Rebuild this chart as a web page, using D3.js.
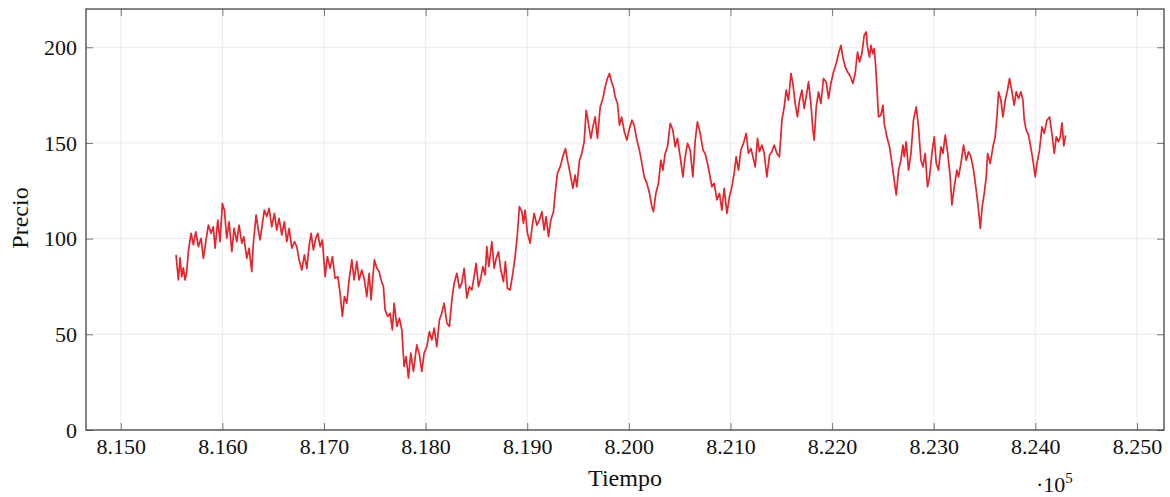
<!DOCTYPE html>
<html>
<head>
<meta charset="utf-8">
<script src="https://cdn.jsdelivr.net/npm/d3@7"></script>
<style>
  body { margin: 0; background: #fff; }
  text { font-family: "Liberation Serif", "DejaVu Serif", serif; fill: #111; }
</style>
</head>
<body>
<div id="canvas"></div>
<script>
// tiempo (x) y precio (y)
const tiempo = [
  815544, 815567, 815584, 815600, 815616, 815633, 815650, 815665, 815692, 815715,
  815738, 815764, 815790, 815813, 815837, 815862, 815889, 815911, 815928, 815955,
  815977, 816000, 816020, 816043, 816066, 816093, 816115, 816142, 816164, 816191,
  816211, 816240, 816263, 816289, 816305, 816332, 816354, 816371, 816394, 816413,
  816437, 816460, 816486, 816512, 816535, 816558, 816585, 816610, 816634, 816657,
  816683, 816709, 816732, 816755, 816782, 816807, 816831, 816853, 816873, 816896,
  816919, 816939, 816962, 816984, 817011, 817033, 817060, 817083, 817109, 817136,
  817158, 817181, 817201, 817224, 817247, 817274, 817296, 817323, 817345, 817372,
  817398, 817421, 817444, 817464, 817476, 817496, 817520, 817542, 817562, 817585,
  817601, 817628, 817651, 817673, 817690, 817717, 817742, 817766, 817788, 817808,
  817831, 817854, 817880, 817913, 817939, 817963, 817985, 818012, 818037, 818061,
  818084, 818110, 818136, 818159, 818182, 818209, 818234, 818258, 818281, 818307,
  818333, 818356, 818379, 818406, 818431, 818455, 818477, 818497, 818520, 818543,
  818563, 818586, 818602, 818622, 818652, 818674, 818694, 818717, 818740, 818766,
  818785, 818805, 818832, 818858, 818881, 818904, 818923, 818947, 818963, 818979,
  819002, 819029, 819048, 819068, 819095, 819120, 819144, 819166, 819186, 819209,
  819232, 819258, 819275, 819297, 819324, 819350, 819376, 819396, 819422, 819449,
  819471, 819488, 819514, 819537, 819560, 819580, 819602, 819626, 819646, 819668,
  819691, 819718, 819744, 819767, 819789, 819809, 819829, 819848, 819865, 819888,
  819908, 819929, 819955, 819980, 820006, 820030, 820052, 820079, 820104, 820128,
  820151, 820177, 820203, 820226, 820242, 820266, 820291, 820315, 820335, 820357,
  820380, 820407, 820433, 820456, 820478, 820505, 820532, 820554, 820577, 820603,
  820630, 820653, 820675, 820702, 820731, 820751, 820774, 820793, 820817, 820840,
  820866, 820892, 820915, 820938, 820965, 820990, 821014, 821036, 821056, 821079,
  821102, 821128, 821155, 821177, 821201, 821221, 821243, 821266, 821285, 821309,
  821332, 821358, 821384, 821407, 821430, 821457, 821482, 821506, 821529, 821548,
  821571, 821595, 821614, 821637, 821659, 821679, 821703, 821725, 821745, 821768,
  821791, 821811, 821824, 821844, 821866, 821890, 821915, 821942, 821965, 821988,
  822014, 822040, 822063, 822087, 822106, 822129, 822152, 822178, 822205, 822227,
  822250, 822270, 822293, 822316, 822336, 822348, 822368, 822382, 822402, 822414,
  822427, 822441, 822457, 822480, 822500, 822513, 822539, 822565, 822589, 822611,
  822631, 822654, 822677, 822697, 822710, 822729, 822752, 822776, 822801, 822828,
  822850, 822874, 822894, 822916, 822939, 822959, 822982, 823005, 823025, 823047,
  823071, 823091, 823113, 823136, 823162, 823179, 823202, 823228, 823244, 823268,
  823293, 823320, 823343, 823366, 823392, 823418, 823441, 823458, 823477, 823497,
  823517, 823530, 823556, 823583, 823605, 823622, 823638, 823661, 823681, 823704,
  823726, 823746, 823770, 823792, 823812, 823835, 823858, 823878, 823891, 823910,
  823933, 823957, 823976, 823999, 824016, 824041, 824065, 824088, 824114, 824140,
  824163, 824186, 824206, 824228, 824245, 824262, 824280, 824298
];

const precio = [
  91.5, 78.4, 89.9, 80.1, 84.7, 78.4, 82.8, 93.2, 102.8, 96.7,
  103.6, 95.8, 100.2, 89.7, 98.4, 107.1, 102.8, 106.2, 95.0, 109.7,
  98.4, 118.4, 114.9, 100.2, 108.8, 93.2, 105.4, 98.4, 107.1, 97.6,
  101.0, 89.7, 95.0, 82.8, 97.6, 112.3, 104.5, 99.3, 108.0, 114.9,
  111.5, 115.8, 106.2, 113.2, 104.5, 110.6, 101.9, 108.8, 98.4, 105.4,
  95.0, 98.4, 95.8, 88.9, 83.6, 91.5, 84.5, 95.8, 102.8, 94.1,
  100.2, 102.8, 95.8, 99.3, 80.1, 90.6, 84.5, 90.6, 79.3, 80.1,
  71.5, 59.3, 69.7, 66.3, 78.4, 88.9, 78.4, 88.0, 78.4, 83.6,
  78.4, 69.7, 81.9, 68.0, 76.7, 88.9, 84.5, 82.8, 78.4, 74.9,
  62.8, 59.3, 61.0, 52.3, 66.3, 54.1, 58.4, 52.3, 33.2, 38.4,
  27.1, 40.2, 30.6, 44.5, 39.3, 30.6, 40.2, 43.6, 51.4, 47.1,
  53.2, 43.6, 57.6, 61.0, 66.3, 55.8, 54.1, 68.0, 76.7, 81.9,
  74.1, 76.7, 84.5, 68.9, 74.9, 73.2, 80.1, 87.1, 74.9, 79.3,
  85.4, 81.0, 95.8, 85.4, 98.4, 84.5, 89.7, 93.2, 83.6, 77.5,
  88.0, 74.1, 73.2, 81.9, 90.6, 102.8, 116.7, 114.1, 108.0, 114.9,
  102.8, 97.6, 106.2, 113.2, 107.1, 109.7, 114.1, 104.5, 111.5, 101.0,
  109.7, 114.1, 123.7, 134.1, 137.5, 142.8, 147.1, 141.0, 134.1, 126.3,
  133.2, 127.1, 141.0, 144.5, 150.6, 167.1, 160.2, 152.4, 158.4, 163.6,
  152.4, 168.8, 173.2, 179.3, 183.7, 186.3, 181.9, 179.3, 174.1, 170.6,
  159.3, 163.5, 156.0, 151.5, 157.6, 161.9, 159.3, 151.5, 146.3, 139.3,
  132.3, 128.9, 123.7, 116.7, 114.1, 123.7, 128.9, 141.0, 135.8, 144.5,
  148.0, 160.2, 156.7, 148.0, 152.4, 142.8, 132.3, 142.8, 149.8, 146.3,
  132.3, 151.5, 161.0, 155.0, 146.0, 144.5, 139.3, 134.1, 127.1, 128.9,
  120.2, 123.7, 114.9, 126.3, 113.2, 121.9, 127.1, 134.1, 142.8, 135.8,
  146.3, 149.8, 155.0, 144.5, 147.1, 142.8, 137.5, 152.4, 145.4, 148.9,
  144.5, 132.3, 143.6, 145.4, 148.9, 144.5, 142.8, 161.9, 168.8, 177.6,
  172.3, 186.3, 181.1, 170.6, 163.6, 172.3, 177.6, 168.0, 174.1, 181.9,
  170.6, 156.7, 151.5, 168.8, 176.7, 170.6, 183.7, 181.9, 173.2, 181.1,
  187.1, 191.5, 196.7, 201.0, 194.9, 189.7, 187.1, 185.0, 181.1, 186.3,
  197.5, 192.3, 196.7, 206.3, 208.0, 200.2, 194.9, 201.0, 196.7, 199.3,
  191.5, 179.3, 163.6, 164.5, 169.7, 160.2, 153.2, 148.0, 139.3, 130.6,
  122.8, 135.8, 141.0, 148.9, 142.8, 150.6, 135.8, 144.5, 161.9, 168.8,
  158.4, 141.0, 137.5, 144.5, 127.1, 132.3, 144.5, 153.2, 139.3, 135.8,
  148.0, 144.5, 154.1, 145.4, 132.3, 117.6, 127.1, 135.8, 132.3, 139.3,
  148.9, 141.0, 145.4, 142.8, 135.8, 125.4, 114.9, 105.4, 116.7, 123.7,
  132.3, 144.5, 139.3, 148.0, 153.2, 163.6, 176.7, 172.3, 163.6, 172.3,
  177.6, 183.7, 176.7, 169.7, 176.7, 173.2, 176.7, 172.3, 161.9, 156.7,
  154.1, 147.1, 141.0, 132.3, 139.3, 146.3, 158.4, 155.0, 161.9, 163.6,
  155.0, 144.5, 153.2, 150.6, 153.2, 160.5, 148.5, 154.0
];

const x_ticks = [815000, 816000, 817000, 818000, 819000, 820000, 821000, 822000, 823000, 824000, 825000];
const y_ticks = [0, 50, 100, 150, 200];

const data = tiempo.map((t, i) => ({ t: t, p: precio[i] }));

const width = 1170;
const height = 497;
const margin = { top: 9, right: 6, bottom: 67, left: 86 };
const inner_w = width - margin.left - margin.right;
const inner_h = height - margin.top - margin.bottom;

const svg = d3.select('#canvas')
    .append('svg')
    .attr('width', width)
    .attr('height', height);

const g = svg.append('g')
    .attr('transform', `translate(${margin.left},${margin.top})`);

const x = d3.scaleLinear()
    .domain([814658, 825266])
    .range([0, inner_w]);

const y = d3.scaleLinear()
    .domain([0, 220])
    .range([inner_h, 0]);

// grid
g.append('g')
    .selectAll('line')
    .data(x_ticks)
    .enter()
    .append('line')
    .attr('x1', d => x(d)).attr('x2', d => x(d))
    .attr('y1', 0).attr('y2', inner_h)
    .attr('stroke', '#ebebeb')
    .attr('stroke-width', 1);

g.append('g')
    .selectAll('line')
    .data(y_ticks)
    .enter()
    .append('line')
    .attr('x1', 0).attr('x2', inner_w)
    .attr('y1', d => y(d)).attr('y2', d => y(d))
    .attr('stroke', '#ebebeb')
    .attr('stroke-width', 1);

// axes (ticks inward, pgfplots style)
const fmt = d => (d / 1e5).toFixed(3);

const x_axis = g.append('g')
    .attr('transform', `translate(0,${inner_h})`)
    .call(d3.axisBottom(x).tickValues(x_ticks).tickSize(-7).tickPadding(8).tickFormat(fmt));

const x_axis_top = g.append('g')
    .call(d3.axisTop(x).tickValues(x_ticks).tickSize(-7).tickFormat(''));

const y_axis = g.append('g')
    .call(d3.axisLeft(y).tickValues(y_ticks).tickSize(-7).tickPadding(9));

const y_axis_right = g.append('g')
    .attr('transform', `translate(${inner_w},0)`)
    .call(d3.axisRight(y).tickValues(y_ticks).tickSize(-7).tickFormat(''));

[x_axis, x_axis_top, y_axis, y_axis_right].forEach(a => {
    a.select('.domain').remove();
    a.selectAll('.tick line').attr('stroke', '#777').attr('stroke-width', 1);
    a.selectAll('.tick text')
        .attr('font-family', '"Liberation Serif", serif')
        .attr('font-size', 22)
        .attr('fill', '#111');
});

// frame
g.append('rect')
    .attr('x', 0).attr('y', 0)
    .attr('width', inner_w).attr('height', inner_h)
    .attr('fill', 'none')
    .attr('stroke', '#444')
    .attr('stroke-width', 1.3);

// line
const line = d3.line()
    .x(d => x(d.t))
    .y(d => y(d.p));

g.append('path')
    .datum(data)
    .attr('d', line)
    .attr('fill', 'none')
    .attr('stroke', '#e8232a')
    .attr('stroke-width', 1.7)
    .attr('stroke-linejoin', 'round');

// labels
svg.append('text')
    .attr('x', margin.left + inner_w / 2)
    .attr('y', 486)
    .attr('text-anchor', 'middle')
    .attr('font-size', 24)
    .text('Tiempo');

svg.append('text')
    .attr('transform', 'translate(28,218) rotate(-90)')
    .attr('text-anchor', 'middle')
    .attr('font-size', 24)
    .text('Precio');

const exp = svg.append('text')
    .attr('x', 1036)
    .attr('y', 492)
    .attr('font-size', 22);
exp.append('tspan').text('·10');
exp.append('tspan').attr('dy', -9).attr('font-size', 15).text('5');
</script>
</body>
</html>
